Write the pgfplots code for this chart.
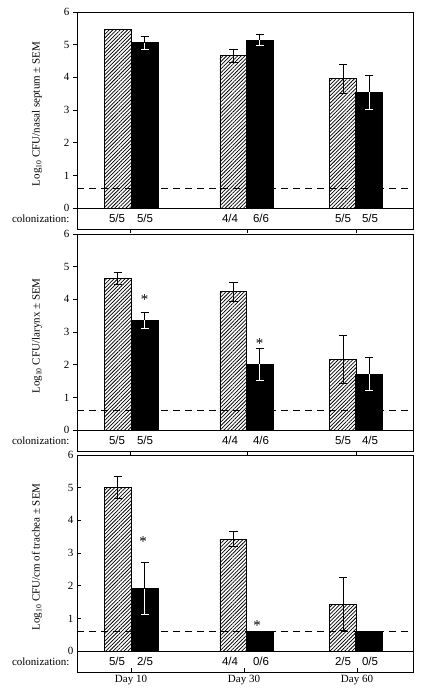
\documentclass[border=0pt]{standalone}
\usepackage{fontspec}
\setmainfont{Liberation Serif}
\newfontfamily\arial{Liberation Sans}
\usepackage{pgfplots}
\pgfplotsset{compat=1.18}
\usetikzlibrary{patterns.meta}

\pgfplotsset{
  panel/.style={
    scale only axis, width=336pt, height=217pt,
    xmin=0, xmax=336, ymin=-0.64, ymax=6,
    ytick={0,...,6}, ytick pos=left, tick align=outside, major tick length=4pt,
    xtick={53,170,279}, xticklabels={}, xtick pos=bottom,
    axis line style={line width=0.9pt},
    tick style={line width=0.8pt, black},
    yticklabel style={font=\fontsize{11}{11}\selectfont},
    /pgf/number format/assume math mode=true,
    ylabel style={at={(axis description cs:-0.119,0.53)}, anchor=center, font=\fontsize{11}{13}\selectfont},
    clip=false,
  },
  hbar/.style={ybar, bar width=26.7, bar shift=0pt, draw=black, line width=0.8pt,
    pattern={Lines[angle=45,distance=2.6pt,line width=0.75pt]}, pattern color=black},
  bbar/.style={ybar, bar width=26.7, bar shift=0pt, draw=black, line width=0.8pt, fill=black},
  err/.style 2 args={draw=none, mark=none, forget plot,
    error bars/.cd, y dir=#2, y explicit,
    error bar style={draw=#1, solid, line width=0.9pt},
    error mark options={rotate=90, draw=#1, solid, line width=0.9pt, mark size=4.2pt}},
  dash/.style={black, line width=0.8pt, dash pattern=on 7pt off 5pt},
  base/.style={black, line width=0.9pt},
}
\newcommand{\colfont}{\arial\fontsize{11.5}{12}\selectfont}
\newcommand{\colrow}[6]{%
  \node[font=\colfont] at (axis cs:40,-0.32) {#1};
  \node[font=\colfont] at (axis cs:68,-0.32) {#2};
  \node[font=\colfont] at (axis cs:153,-0.32) {#3};
  \node[font=\colfont] at (axis cs:184,-0.32) {#4};
  \node[font=\colfont] at (axis cs:266,-0.32) {#5};
  \node[font=\colfont] at (axis cs:293,-0.32) {#6};
  \node[anchor=east, font=\fontsize{11}{12}\selectfont] at (axis cs:-4,-0.32) {colonization:};
}
\newcommand{\sigstar}[2]{\node[font=\fontsize{15}{15}\selectfont] at (axis cs:#1,#2) {*};}

\begin{document}
\begin{tikzpicture}
\path[use as bounding box] (0pt,0pt) rectangle (425pt,698pt);

% Panel 1: nasal septum
\begin{axis}[panel, at={(77pt,469pt)}, anchor=south west,
  ylabel={Log\textsubscript{10} CFU/nasal septum ± SEM}]
\addplot[hbar] coordinates {(40.7,5.47) (156.3,4.66) (266,3.96)};
\addplot[bbar] coordinates {(67.7,5.06) (182.7,5.14) (292,3.54)};
\addplot[err={black}{both}] coordinates {(156.3,4.66) +- (0,0.2) (266,3.96) +- (0,0.44)};
\addplot[err={black}{plus}] coordinates {(67.7,5.06) +- (0,0.18) (182.7,5.14) +- (0,0.17) (292,3.54) +- (0,0.53)};
\addplot[err={white}{minus}] coordinates {(67.7,5.06) +- (0,0.2) (182.7,5.14) +- (0,0.17) (292,3.54) +- (0,0.53)};
\addplot[dash] coordinates {(0,0.6) (336,0.6)};
\addplot[base] coordinates {(0,0) (336,0)};
\colrow{5/5}{5/5}{4/4}{6/6}{5/5}{5/5}
\end{axis}

% Panel 2: larynx
\begin{axis}[panel, at={(77pt,247pt)}, anchor=south west,
  ylabel={Log\textsubscript{10} CFU/larynx ± SEM}]
\addplot[hbar] coordinates {(40.7,4.64) (156.3,4.24) (266,2.16)};
\addplot[bbar] coordinates {(67.7,3.36) (182.7,2.01) (292,1.71)};
\addplot[err={black}{both}] coordinates {(40.7,4.64) +- (0,0.18) (156.3,4.24) +- (0,0.29) (266,2.16) +- (0,0.74)};
\addplot[err={black}{plus}] coordinates {(67.7,3.36) +- (0,0.24) (182.7,2.01) +- (0,0.48) (292,1.71) +- (0,0.5)};
\addplot[err={white}{minus}] coordinates {(67.7,3.36) +- (0,0.24) (182.7,2.01) +- (0,0.48) (292,1.71) +- (0,0.5)};
\addplot[dash] coordinates {(0,0.6) (336,0.6)};
\addplot[base] coordinates {(0,0) (336,0)};
\sigstar{67.7}{3.98}
\sigstar{182.7}{2.64}
\colrow{5/5}{5/5}{4/4}{4/6}{5/5}{4/5}
\end{axis}

% Panel 3: trachea
\begin{axis}[panel, at={(77pt,26pt)}, anchor=south west, tick align=inside,
  ytick pos=left, xtick={54,167,280}, xticklabels={Day 10,Day 30,Day 60},
  xticklabel style={font=\fontsize{11}{12}\selectfont},
  ylabel={Log\textsubscript{10} CFU/cm of trachea ± SEM}]
\addplot[hbar] coordinates {(40.7,5.0) (156.3,3.42) (266,1.44)};
\addplot[bbar] coordinates {(67.7,1.91) (182.7,0.59) (292,0.59)};
\addplot[err={black}{both}] coordinates {(40.7,5.0) +- (0,0.34) (156.3,3.42) +- (0,0.23) (266,1.44) +- (0,0.8)};
\addplot[err={black}{plus}] coordinates {(67.7,1.91) +- (0,0.79)};
\addplot[err={white}{minus}] coordinates {(67.7,1.91) +- (0,0.79)};
\addplot[dash] coordinates {(0,0.6) (336,0.6)};
\addplot[base] coordinates {(0,0) (336,0)};
\sigstar{66}{3.36}
\sigstar{180}{0.78}
\colrow{5/5}{2/5}{4/4}{0/6}{2/5}{0/5}
\end{axis}
\end{tikzpicture}
\end{document}
